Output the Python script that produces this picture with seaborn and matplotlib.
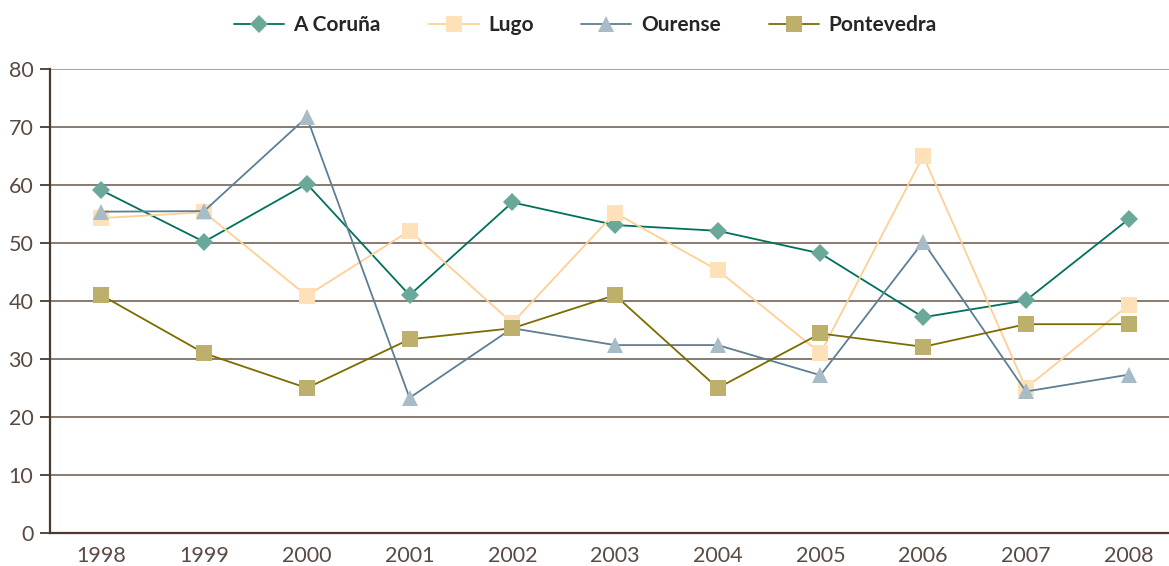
import matplotlib
matplotlib.use("Agg")
import matplotlib.pyplot as plt
import seaborn as sns
import numpy as np

years = ["1998", "1999", "2000", "2001", "2002", "2003", "2004", "2005", "2006", "2007", "2008"]
a_coruna = [59.1, 50.2, 60.2, 41.0, 57.0, 53.1, 52.1, 48.2, 37.2, 40.1, 54.1]
lugo = [54.3, 55.3, 40.9, 52.1, 36.2, 55.2, 45.3, 31.0, 65.0, 25.0, 39.3]
ourense = [55.4, 55.5, 71.7, 23.3, 35.3, 32.4, 32.4, 27.2, 50.2, 24.4, 27.3]
pontevedra = [41.0, 31.0, 25.0, 33.4, 35.3, 41.0, 25.0, 34.4, 32.1, 36.0, 36.0]
series_names = ["A Coruña", "Lugo", "Ourense", "Pontevedra"]
y_ticks = [0, 10, 20, 30, 40, 50, 60, 70, 80]

sns.set_theme(style="white")
plt.rcParams['font.family'] = ['Lato', 'DejaVu Sans']

fig = plt.figure(figsize=(11.69, 5.66), dpi=100)
W, H = 1169, 566
ax = fig.add_axes([50 / W, 33 / H, 1130 / W, 464 / H])

styles = [
    dict(color="#00705c", marker="D", mfc="#6aa89a", ms=9.5),
    dict(color="#ffcf94", marker="s", mfc="#fee0b9", ms=12),
    dict(color="#5e7e92", marker="^", mfc="#a8bcc8", ms=12),
    dict(color="#7b6c00", marker="s", mfc="#bdb06c", ms=12),
]
data = [a_coruna, lugo, ourense, pontevedra]
x = np.arange(len(years))

for name, vals, st in zip(series_names, data, styles):
    sns.lineplot(x=x, y=vals, ax=ax, color=st["color"], linewidth=1.3,
                 marker=st["marker"], markerfacecolor=st["mfc"],
                 markeredgecolor=st["mfc"], markeredgewidth=0,
                 markersize=st["ms"], label=name, zorder=3)

ax.set_xlim(-0.5, len(years) - 0.5)
ax.set_ylim(0, 80)
ax.set_yticks(y_ticks)
ax.set_yticklabels([str(v) for v in y_ticks])
for v in y_ticks[1:]:
    ax.axhline(v, color="#7d6f66" if v != 80 else "#a59a92", linewidth=1.3, zorder=1)

ax.set_xticks(x)
ax.set_xticklabels(years)
ax.set_xticks(np.arange(-0.5, len(years), 1.0), minor=True)
ax.tick_params(axis="x", which="major", length=0, pad=9, labelsize=15.5, labelcolor="#5a4a42")
ax.tick_params(axis="x", which="minor", length=8, width=1.3, color="#4a3a30", direction="out")
ax.tick_params(axis="y", which="major", length=7, width=1.3, color="#4a3a30", direction="out",
               pad=5, labelsize=15.5, labelcolor="#5a4a42", left=True)

for s in ["top", "right"]:
    ax.spines[s].set_visible(False)
ax.spines["left"].set_color("#4a3a30")
ax.spines["left"].set_linewidth(1.6)
ax.spines["bottom"].set_color("#4a3a30")
ax.spines["bottom"].set_linewidth(1.6)
ax.grid(False)

handles, labels = ax.get_legend_handles_labels()
if ax.legend_:
    ax.legend_.remove()
fig.legend(handles, labels, loc="center", bbox_to_anchor=(585 / W, 1 - 25 / H), ncol=4,
           frameon=False, handlelength=2.4, handletextpad=0.45, columnspacing=2.3,
           prop={"weight": "bold", "size": 15})

fig.savefig("out.png", dpi=100)
